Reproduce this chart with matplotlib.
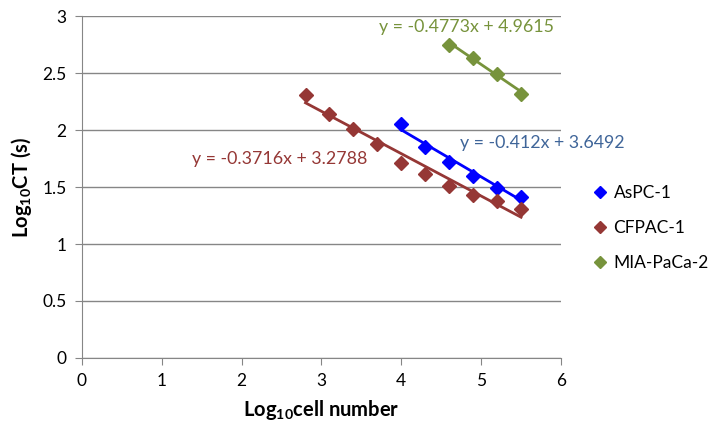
import matplotlib
matplotlib.use("Agg")
import matplotlib.pyplot as plt
import numpy as np

plt.rcParams["font.family"] = ["Lato", "DejaVu Sans"]
plt.rcParams["mathtext.fontset"] = "custom"
plt.rcParams["mathtext.rm"] = "Lato"
plt.rcParams["mathtext.bf"] = "Lato:bold"

# log10 cell number vs log10 CT (s)
aspc_x = [4.0, 4.3, 4.6, 4.9, 5.2, 5.5]
aspc_y = [2.05, 1.85, 1.72, 1.60, 1.49, 1.41]
cfpac_x = [2.8, 3.1, 3.4, 3.7, 4.0, 4.3, 4.6, 4.9, 5.2, 5.5]
cfpac_y = [2.31, 2.14, 2.01, 1.88, 1.71, 1.61, 1.51, 1.43, 1.38, 1.31]
mia_x = [4.6, 4.9, 5.2, 5.5]
mia_y = [2.75, 2.63, 2.49, 2.32]

series = [
    ("AsPC-1", aspc_x, aspc_y, "#0000FF", (-0.412, 3.6492), "#3F6599",
     "y = -0.412x + 3.6492", (5.76, 1.89)),
    ("CFPAC-1", cfpac_x, cfpac_y, "#953735", (-0.3716, 3.2788), "#953735",
     "y = -0.3716x + 3.2788", (2.48, 1.75)),
    ("MIA-PaCa-2", mia_x, mia_y, "#77933C", (-0.4773, 4.9615), "#77933C",
     "y = -0.4773x + 4.9615", (4.82, 2.90)),
]

fig = plt.figure(figsize=(7.14, 4.36), dpi=100)
ax = fig.add_axes([0.1148, 0.1789, 0.6709, 0.7844])

for name, xs, ys, color, (m, b), tcolor, eq, pos in series:
    ax.plot(xs, ys, linestyle="none", marker="D", markersize=7,
            color=color, label=name, zorder=3)
    xl = np.array([min(xs), max(xs)])
    ax.plot(xl, m * xl + b, color=color, linewidth=2, zorder=2)
    ax.text(pos[0], pos[1], eq, color=tcolor, fontsize=12.8,
            ha="center", va="center")

ax.set_xlim(0, 6)
ax.set_ylim(0, 3)
ax.set_xticks(range(0, 7))
ax.set_yticks([0, 0.5, 1, 1.5, 2, 2.5, 3])
ax.set_yticklabels(["0", "0.5", "1", "1.5", "2", "2.5", "3"])
ax.grid(axis="y", color="#868686", linewidth=1)
ax.set_axisbelow(True)
for s in ["top", "right"]:
    ax.spines[s].set_visible(False)
for s in ["left", "bottom"]:
    ax.spines[s].set_color("#868686")
ax.tick_params(axis="both", direction="out", length=5, color="#868686",
               labelsize=12.5, labelcolor="black", pad=6)

ax.set_xlabel(r"Log$_\mathbf{10}$cell number", fontsize=14.5,
              fontweight="bold", labelpad=6)
ax.set_ylabel(r"Log$_\mathbf{10}$CT (s)", fontsize=14.5,
              fontweight="bold", labelpad=6)

ax.legend(loc="center left", bbox_to_anchor=(1.03, 0.38), frameon=False,
          fontsize=12.5, handletextpad=0.3, labelspacing=1.1,
          handlelength=1.0, markerscale=0.9)

fig.savefig("out.png", dpi=100)
